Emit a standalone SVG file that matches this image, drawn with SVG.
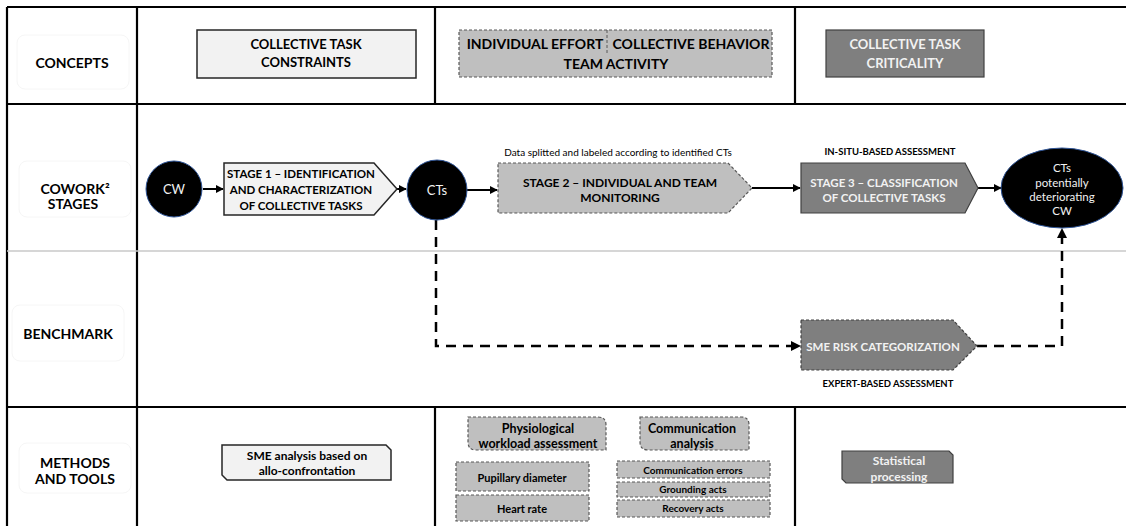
<svg xmlns="http://www.w3.org/2000/svg" width="1126" height="526" viewBox="0 0 1126 526">
<defs>
<style>
text{font-family:Lato,"Liberation Sans",sans-serif;text-anchor:middle;dominant-baseline:central}
.b{font-weight:bold}
.lbl{font-size:14px;font-weight:bold;fill:#000}
.grid{stroke:#000;stroke-width:2.2;fill:none}
.light{fill:#f2f2f2;stroke:#262626;stroke-width:1.5}
.mid{fill:#bfbfbf;stroke:#595959;stroke-width:1.2;stroke-dasharray:3 2}
.dark{fill:#7f7f7f;stroke:#404040;stroke-width:1.2}
.darkd{fill:#7f7f7f;stroke:#404040;stroke-width:1.2;stroke-dasharray:3 2}
.wt{fill:#f2f2f2}
.circ{fill:#000;stroke:#2f5597;stroke-width:1}
.arr{stroke:#000;stroke-width:2;fill:none;marker-end:url(#ah)}
.darr{stroke:#000;stroke-width:2.5;fill:none;stroke-dasharray:10 7;marker-end:url(#ah)}
.cell{fill:none;stroke:#f6f6f6;stroke-width:1}
</style>
<marker id="ah" viewBox="0 0 10 10" refX="9" refY="5" markerWidth="4" markerHeight="4" orient="auto" markerUnits="strokeWidth">
<path d="M0,0 L10,5 L0,10 Z" fill="#000"/>
</marker>
</defs>
<rect width="1126" height="526" fill="#fff"/>
<g id="grid">
<line x1="7" y1="7" x2="1126" y2="7" class="grid"/>
<line x1="7" y1="7" x2="7" y2="526" class="grid"/>
<line x1="137" y1="7" x2="137" y2="526" class="grid"/>
<line x1="7" y1="104" x2="1126" y2="104" class="grid"/>
<line x1="7" y1="251" x2="1126" y2="251" stroke="#c8c8c8" stroke-width="1.5"/>
<line x1="7" y1="407" x2="1126" y2="407" class="grid"/>
<line x1="435" y1="7" x2="435" y2="104" class="grid"/>
<line x1="795" y1="7" x2="795" y2="104" class="grid"/>
<line x1="435" y1="407" x2="435" y2="526" class="grid"/>
<line x1="795" y1="407" x2="795" y2="526" class="grid"/>
</g>
<g id="row-labels">
<rect x="17" y="35" width="112" height="54" rx="8" class="cell"/>
<text x="72" y="62" class="lbl">CONCEPTS</text>
<rect x="19" y="161" width="112" height="56" rx="8" class="cell"/>
<text x="75" y="188" class="lbl"><tspan x="75" y="188">COWORK²</tspan><tspan x="73" y="203">STAGES</tspan></text>
<rect x="12" y="305" width="112" height="56" rx="8" class="cell"/>
<text x="68" y="333" class="lbl">BENCHMARK</text>
<rect x="19" y="443" width="112" height="50" rx="8" class="cell"/>
<text class="lbl"><tspan x="75" y="462">METHODS</tspan><tspan x="75" y="478">AND TOOLS</tspan></text>
</g>
<g id="concept-constraints">
<rect x="197" y="30" width="219" height="48" class="light"/>
<text class="b" font-size="13"><tspan x="306" y="44">COLLECTIVE TASK</tspan><tspan x="306" y="62">CONSTRAINTS</tspan></text>
</g>
<g id="concept-team">
<rect x="459" y="30" width="313" height="47" class="mid"/>
<line x1="607" y1="30" x2="607" y2="53" stroke="#595959" stroke-width="1" stroke-dasharray="3 2"/>
<text class="b" font-size="14"><tspan x="535" y="43">INDIVIDUAL EFFORT</tspan><tspan x="691" y="43">COLLECTIVE BEHAVIOR</tspan><tspan x="616" y="63">TEAM ACTIVITY</tspan></text>
</g>
<g id="concept-criticality">
<rect x="826" y="30" width="158" height="47" class="dark"/>
<text class="b wt" font-size="13"><tspan x="905" y="44">COLLECTIVE TASK</tspan><tspan x="905" y="63">CRITICALITY</tspan></text>
</g>
<g id="connectors">
<line x1="203" y1="189" x2="223" y2="189" class="arr"/>
<line x1="397" y1="189" x2="406" y2="189" class="arr"/>
<line x1="467" y1="190" x2="497" y2="190" class="arr"/>
<line x1="752" y1="188" x2="800" y2="188" class="arr"/>
<line x1="978" y1="188" x2="1001" y2="188" class="arr"/>
<path d="M436,220 V346 H800" class="darr"/>
<path d="M977,346 H1062 V229" class="darr"/>
</g>
<g id="node-cw">
<circle cx="174" cy="189" r="28" class="circ"/>
<text x="174" y="189" font-size="13" class="wt">CW</text>
</g>
<g id="node-stage1">
<path d="M224,163 H374 L397,189 L374,215 H224 Z" class="light"/>
<text class="b" font-size="11.5"><tspan x="301" y="173">STAGE 1 – IDENTIFICATION</tspan><tspan x="301" y="189">AND CHARACTERIZATION</tspan><tspan x="301" y="205">OF COLLECTIVE TASKS</tspan></text>
</g>
<g id="node-cts">
<circle cx="437" cy="190" r="30" class="circ"/>
<text x="437" y="190" font-size="13" class="wt">CTs</text>
</g>
<g id="node-stage2">
<text x="618" y="152" font-size="10">Data splitted and labeled according to identified CTs</text>
<path d="M498,163 H728 L752,188 L728,213 H498 Z" class="mid"/>
<text class="b" font-size="12"><tspan x="620" y="182">STAGE 2 – INDIVIDUAL AND TEAM</tspan><tspan x="620" y="197">MONITORING</tspan></text>
</g>
<g id="node-stage3">
<text x="890" y="151" font-size="9.5" class="b">IN-SITU-BASED ASSESSMENT</text>
<path d="M801,163 H965 L978,188 L965,213 H801 Z" class="dark"/>
<text class="b wt" font-size="11.5"><tspan x="884" y="182">STAGE 3 – CLASSIFICATION</tspan><tspan x="884" y="197">OF COLLECTIVE TASKS</tspan></text>
</g>
<g id="node-result">
<ellipse cx="1062" cy="188" rx="61" ry="40" class="circ"/>
<text font-size="11.5" class="wt"><tspan x="1062" y="167">CTs</tspan><tspan x="1062" y="182">potentially</tspan><tspan x="1062" y="196">deteriorating</tspan><tspan x="1062" y="210">CW</tspan></text>
</g>
<g id="node-sme-risk">
<path d="M801,320 H953 L977,346 L953,370 H801 Z" class="darkd"/>
<text x="883" y="346" class="b wt" font-size="11.5">SME RISK CATEGORIZATION</text>
<text x="888" y="383" class="b" font-size="9.5">EXPERT-BASED ASSESSMENT</text>
</g>
<g id="method-sme">
<path d="M222,445 H386 L391,450 V480 H227 L222,475 Z" class="light"/>
<text class="b" font-size="12"><tspan x="307" y="455">SME analysis based on</tspan><tspan x="307" y="470">allo-confrontation</tspan></text>
</g>
<g id="method-physio">
<path d="M468,417 H598 Q606,417 606,425 V450 H476 Q468,450 468,442 Z" class="mid"/>
<text class="b" font-size="12.5"><tspan x="538" y="428">Physiological</tspan><tspan x="538" y="443">workload assessment</tspan></text>
</g>
<g id="method-comm">
<path d="M640,417 H741 Q749,417 749,425 V450 H648 Q640,450 640,442 Z" class="mid"/>
<text class="b" font-size="12.5"><tspan x="692" y="428">Communication</tspan><tspan x="692" y="443">analysis</tspan></text>
</g>
<g id="method-pupil">
<rect x="456" y="462" width="133" height="29" class="mid"/>
<text x="522" y="477" class="b" font-size="11">Pupillary diameter</text>
</g>
<g id="method-heart">
<rect x="456" y="495" width="133" height="26" class="mid"/>
<text x="522" y="508" class="b" font-size="11">Heart rate</text>
</g>
<g id="method-comm-errors">
<rect x="617" y="461" width="153" height="17" class="mid"/>
<text x="693" y="470" class="b" font-size="10">Communication  errors</text>
</g>
<g id="method-grounding">
<rect x="617" y="482" width="153" height="15" class="mid"/>
<text x="693" y="489" class="b" font-size="10">Grounding acts</text>
</g>
<g id="method-recovery">
<rect x="617" y="500" width="153" height="17" class="mid"/>
<text x="693" y="508" class="b" font-size="10">Recovery acts</text>
</g>
<g id="method-stat">
<path d="M842,451 H949 L953,455 V483 H846 L842,479 Z" class="dark"/>
<text class="b wt" font-size="12"><tspan x="899" y="460">Statistical</tspan><tspan x="899" y="476">processing</tspan></text>
</g>
</svg>
